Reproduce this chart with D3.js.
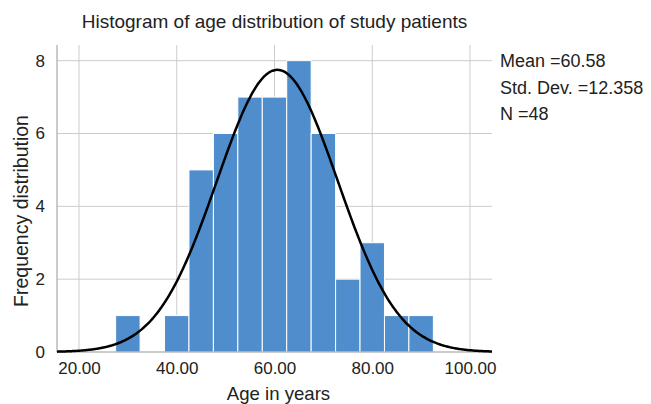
<!DOCTYPE html>
<html>
<head>
<meta charset="utf-8">
<script src="https://cdn.jsdelivr.net/npm/d3@7"></script>
<style>
  body { margin: 0; background: #fff; }
  text { font-family: "Liberation Sans", Arial, Helvetica, sans-serif; fill: #222; }
</style>
</head>
<body>
<div id="chart"></div>
<script>
// histogram bins (lower edge, width 5) and counts
const binStarts = [27.5, 32.5, 37.5, 42.5, 47.5, 52.5, 57.5, 62.5, 67.5, 72.5, 77.5, 82.5, 87.5];
const counts    = [1,    0,    1,    5,    6,    7,    7,    8,    6,    2,    3,    1,    1];
const binWidth = 5;

const xTicks = [20, 40, 60, 80, 100];
const yTicks = [0, 2, 4, 6, 8];

const statLabels = ["Mean =60.58", "Std. Dev. =12.358", "N =48"];
const mean = 60.58, sd = 12.358, n = 48;

const margin = {top: 45, right: 159, bottom: 52, left: 57};
const width = 651 - margin.left - margin.right;
const height = 404 - margin.top - margin.bottom;

const svg = d3.select("#chart")
    .append("svg")
    .attr("width", 651)
    .attr("height", 404);

const g = svg.append("g")
    .attr("transform", `translate(${margin.left},${margin.top})`);

const xScale = d3.scaleLinear().domain([15.5, 104.5]).range([0, width]);
const yScale = d3.scaleLinear().domain([0, 8.43]).range([height, 0]);

// gridlines
g.selectAll(".vgrid").data(xTicks).enter().append("line")
    .attr("x1", d => xScale(d)).attr("x2", d => xScale(d))
    .attr("y1", 0).attr("y2", height)
    .attr("stroke", "#cccccc").attr("stroke-width", 1);
g.selectAll(".hgrid").data(yTicks.filter(d => d > 0)).enter().append("line")
    .attr("x1", 0).attr("x2", width)
    .attr("y1", d => yScale(d)).attr("y2", d => yScale(d))
    .attr("stroke", "#cccccc").attr("stroke-width", 1);

// bars
const bins = binStarts.map((b, i) => ({x0: b, x1: b + binWidth, count: counts[i]}))
    .filter(d => d.count > 0);
g.selectAll(".bar").data(bins).enter().append("rect")
    .attr("x", d => xScale(d.x0))
    .attr("y", d => yScale(d.count))
    .attr("width", d => xScale(d.x1) - xScale(d.x0))
    .attr("height", d => yScale(0) - yScale(d.count))
    .attr("fill", "#4f8dcc")
    .attr("stroke", "#ffffff")
    .attr("stroke-width", 1);

// axes lines
g.append("line").attr("x1", 0).attr("x2", 0).attr("y1", 0).attr("y2", height)
    .attr("stroke", "#999").attr("stroke-width", 1);
g.append("line").attr("x1", 0).attr("x2", width).attr("y1", height).attr("y2", height)
    .attr("stroke", "#999").attr("stroke-width", 1);

// normal curve from the stats
const curveX = d3.range(xScale.domain()[0], xScale.domain()[1] + 0.01, 0.25);
const curve = curveX.map(x => [x, n * binWidth / (sd * Math.sqrt(2 * Math.PI)) *
    Math.exp(-0.5 * Math.pow((x - mean) / sd, 2))]);
g.append("path")
    .datum(curve)
    .attr("fill", "none")
    .attr("stroke", "#000")
    .attr("stroke-width", 2.5)
    .attr("d", d3.line().x(d => xScale(d[0])).y(d => yScale(d[1])).curve(d3.curveBasis));

// tick labels
const xAxis = d3.axisBottom(xScale).tickValues(xTicks).tickFormat(d3.format(".2f")).tickSize(0).tickPadding(10);
const xAxisGroup = g.append("g").attr("transform", `translate(0,${height})`).call(xAxis);
xAxisGroup.select(".domain").remove();
xAxisGroup.selectAll("text").style("font-size", "17px").attr("fill", "#222");

const yAxis = d3.axisLeft(yScale).tickValues(yTicks).tickSize(0).tickPadding(12);
const yAxisGroup = g.append("g").call(yAxis);
yAxisGroup.select(".domain").remove();
yAxisGroup.selectAll("text").style("font-size", "17px").attr("fill", "#222");

// title
svg.append("text")
    .attr("x", margin.left + width / 2)
    .attr("y", 28)
    .style("text-anchor", "middle")
    .style("font-size", "19px")
    .text("Histogram of age distribution of study patients");

// axis titles
svg.append("text")
    .attr("x", margin.left + width / 2 + 4)
    .attr("y", 400)
    .style("text-anchor", "middle")
    .style("font-size", "18.6px")
    .text("Age in years");

svg.append("text")
    .attr("transform", `translate(28,211) rotate(-90)`)
    .style("text-anchor", "middle")
    .style("font-size", "19.5px")
    .text("Frequency distribution");

// stats box
svg.selectAll(".stat").data(statLabels).enter().append("text")
    .attr("x", 500)
    .attr("y", (d, i) => 67 + i * 26.5)
    .style("font-size", "18px")
    .text(d => d);
</script>
</body>
</html>
